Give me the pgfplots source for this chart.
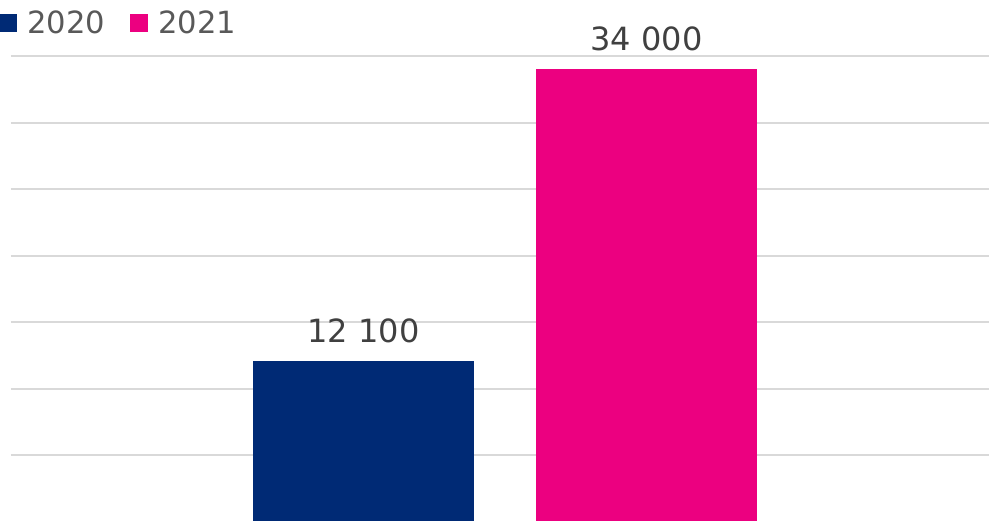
\documentclass[border=0pt]{standalone}
\usepackage{pgfplots}
\pgfplotsset{compat=1.18}
\usepackage{fontspec}
\setmainfont{DejaVu Sans}
\definecolor{navy}{HTML}{002A75}
\definecolor{pink}{HTML}{EC0080}
\definecolor{gridgray}{HTML}{D9D9D9}
\definecolor{leggray}{HTML}{595959}
\definecolor{valgray}{HTML}{404040}
\begin{document}
\begin{tikzpicture}
\begin{axis}[
  scale only axis, width=489bp, height=233bp,
  xmin=0, xmax=978, ymin=0, ymax=35000,
  scaled y ticks=false,
  axis line style={draw=none}, tick style={draw=none},
  xtick=\empty, ytick={5000,10000,...,35000}, yticklabels={},
  ymajorgrids, grid style={color=gridgray, line width=1bp},
  ybar, bar width=110.5bp, bar shift=0pt,
  clip=false,
  nodes near coords, point meta=explicit symbolic,
  every node near coord/.append style={font=\fontsize{16bp}{18bp}\selectfont, text=valgray, inner sep=0pt, yshift=9bp, anchor=south},
  legend style={draw=none, fill=none, at={(axis cs:-12,38450)}, anchor=north west, inner sep=0pt,
    legend columns=2, font=\fontsize{15.3bp}{18bp}\selectfont, text=leggray,
    nodes={inner sep=0pt, text depth=0pt},
    /tikz/every odd column/.append style={column sep=5bp},
    /tikz/every even column/.append style={column sep=12.5bp}},
  legend image code/.code={\fill[#1,draw=none] (0bp,-5.1bp) rectangle (9bp,3.9bp);},
]
\addplot[fill=navy, draw=none] coordinates {(352.5,12100) [12 100]};
\addplot[fill=pink, draw=none] coordinates {(635.5,34000) [34 000]};
\legend{2020,2021}
\end{axis}
\pgfresetboundingbox
\path (-5.5bp,0.5bp) rectangle (490.5bp,261bp);
\end{tikzpicture}
\end{document}
